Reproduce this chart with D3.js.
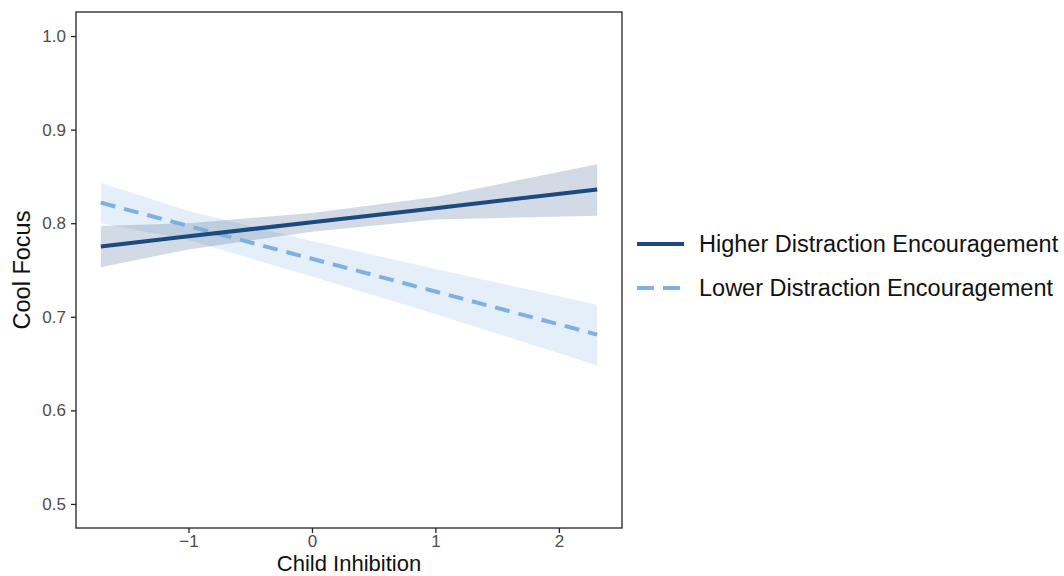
<!DOCTYPE html>
<html><head><meta charset="utf-8">
<script src="https://cdn.jsdelivr.net/npm/d3@7"></script>
<style>body{margin:0;background:#fff;} text{font-family:"Liberation Sans",Arial,sans-serif;}</style>
</head><body><svg id="chart" width="1064" height="576"></svg>
<script>
const xValues = [-1.71, -1, 0, 1, 2.31];
const seriesNames = ["Higher Distraction Encouragement", "Lower Distraction Encouragement"];
const higherFit = [0.775, 0.786, 0.801, 0.816, 0.836];
const higherLow = [0.753, 0.772, 0.791, 0.804, 0.808];
const higherHigh = [0.797, 0.800, 0.811, 0.828, 0.863];
const lowerFit = [0.822, 0.797, 0.762, 0.727, 0.681];
const lowerLow = [0.800, 0.782, 0.743, 0.703, 0.648];
const lowerHigh = [0.843, 0.813, 0.781, 0.751, 0.713];
const xTicks = [-1, 0, 1, 2];
const yTicks = [0.5, 0.6, 0.7, 0.8, 0.9, 1.0];

const svg = d3.select("#chart");
const L = 76, R = 622, T = 12, B = 528;
const x = d3.scaleLinear().domain([-1.911, 2.511]).range([L, R]);
const y = d3.scaleLinear().domain([0.4743, 1.0257]).range([B, T]);

const series = [
  {name: seriesNames[0], fit: higherFit, lo: higherLow, hi: higherHigh, color: "#1c4a7c", fill: "#1c4a7c", dash: null},
  {name: seriesNames[1], fit: lowerFit, lo: lowerLow, hi: lowerHigh, color: "#7fb0e1", fill: "#7fb0e1", dash: "15,9"}
];

const area = d3.area().x((d) => x(d.x)).y0((d) => y(d.lo)).y1((d) => y(d.hi));
const line = d3.line().x((d) => x(d.x)).y((d) => y(d.y));

series.slice().reverse().forEach((s) => {
  const pts = xValues.map((xv, i) => ({x: xv, lo: s.lo[i], hi: s.hi[i]}));
  svg.append("path").attr("d", area(pts)).attr("fill", s.fill).attr("fill-opacity", 0.2);
});
series.slice().reverse().forEach((s) => {
  const pts = xValues.map((xv, i) => ({x: xv, y: s.fit[i]}));
  svg.append("path").attr("d", line(pts)).attr("fill", "none").attr("stroke", s.color)
    .attr("stroke-width", 4).attr("stroke-dasharray", s.dash);
});

svg.append("rect").attr("x", L).attr("y", T).attr("width", R - L).attr("height", B - T)
  .attr("fill", "none").attr("stroke", "#222").attr("stroke-width", 1.3);

const xAxis = svg.append("g").attr("transform", `translate(0,${B})`)
  .call(d3.axisBottom(x).tickValues(xTicks).tickSize(5).tickPadding(2).tickFormat((d) => d < 0 ? "\u2212" + Math.abs(d) : d));
const yAxis = svg.append("g").attr("transform", `translate(${L},0)`)
  .call(d3.axisLeft(y).tickValues(yTicks).tickSize(5).tickPadding(5).tickFormat(d3.format(".1f")));
[xAxis, yAxis].forEach((g) => {
  g.select(".domain").remove();
  g.selectAll(".tick line").attr("stroke", "#222").attr("stroke-width", 1.3);
  g.selectAll(".tick text").attr("fill", "#4d4d4d").style("font-size", "17px");
});

svg.append("text").attr("x", (L + R) / 2).attr("y", 571).attr("text-anchor", "middle")
  .style("font-size", "22px").attr("fill", "#111").text("Child Inhibition");
svg.append("text").attr("transform", `translate(30,${(T + B) / 2}) rotate(-90)`).attr("text-anchor", "middle")
  .style("font-size", "23.5px").attr("fill", "#111").text("Cool Focus");

series.forEach((s, i) => {
  const ly = 244 + i * 44;
  svg.append("line").attr("x1", 637).attr("x2", 684).attr("y1", ly).attr("y2", ly)
    .attr("stroke", s.color).attr("stroke-width", 4).attr("stroke-dasharray", s.dash ? "17,9" : null);
  svg.append("text").attr("x", 699).attr("y", ly + 8).style("font-size", "23.5px").attr("fill", "#111").text(s.name);
});
</script></body></html>
